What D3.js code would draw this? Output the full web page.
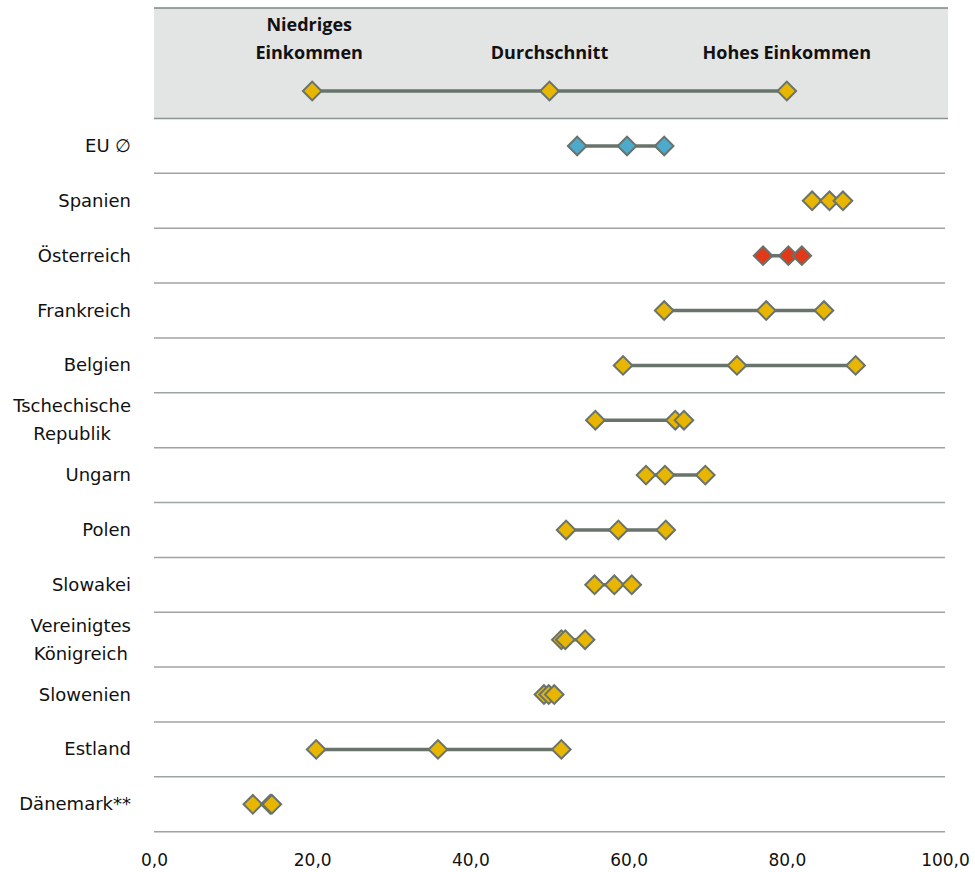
<!DOCTYPE html>
<html>
<head>
<meta charset="utf-8">
<script src="https://cdn.jsdelivr.net/npm/d3@7"></script>
<style>
  html, body { margin: 0; padding: 0; background: #fff; }
  svg { display: block; }
</style>
</head>
<body>
<svg id="chart" width="975" height="872"></svg>
<script>
// ---- Data ----
const categories = ["EU ∅", "Spanien", "Österreich", "Frankreich", "Belgien",
  "Tschechische\nRepublik", "Ungarn", "Polen", "Slowakei",
  "Vereinigtes\nKönigreich", "Slowenien", "Estland", "Dänemark**"];
const niedrigesEinkommen = [53.5, 83.2, 77.0, 64.5, 59.3, 55.8, 62.2, 52.1, 55.7, 51.5, 49.3, 20.5, 12.5];
const durchschnitt       = [59.8, 85.4, 80.2, 77.4, 73.7, 65.9, 64.6, 58.7, 58.2, 52.0, 49.9, 35.9, 14.7];
const hohesEinkommen     = [64.5, 87.1, 81.9, 84.7, 88.7, 67.0, 69.7, 64.7, 60.4, 54.5, 50.6, 51.5, 14.9];
const legendLabels = ["Niedriges\nEinkommen", "Durchschnitt", "Hohes Einkommen"];
const legendValues = [20, 50, 80];
const xTicks = [0, 20, 40, 60, 80, 100];

// ---- Styles ----
const GOLD = "#e8b500", BLUE = "#4eaacb", RED = "#e2391a";
const STROKE = "#68736c";
const colorFor = c => c === "EU ∅" ? BLUE : (c === "Österreich" ? RED : GOLD);

const svg = d3.select("#chart");
const x = d3.scaleLinear().domain([0, 100]).range([154, 945]);
const y = d3.scaleBand().domain(categories).range([118.5, 831.7]);
const diamond = d3.symbol().type(d3.symbolSquare).size(2 * 9.3 * 9.3);

// ---- Legend box ----
const lg = svg.append("g");
lg.append("rect").attr("x", x(0)).attr("y", 8).attr("width", x(100) - x(0) + 3).attr("height", 110)
  .attr("fill", "#e3e4e4");
lg.append("line").attr("x1", x(0)).attr("x2", x(100) + 3).attr("y1", 8).attr("y2", 8)
  .attr("stroke", "#7d8682").attr("stroke-width", 1.5);
const legendY = 91;
lg.append("line").attr("x1", x(d3.min(legendValues))).attr("x2", x(d3.max(legendValues)))
  .attr("y1", legendY).attr("y2", legendY).attr("stroke", STROKE).attr("stroke-width", 3.5);
legendValues.forEach((v, i) => {
  lg.append("path").attr("d", diamond)
    .attr("transform", `translate(${x(v)},${legendY}) rotate(45)`)
    .attr("fill", GOLD).attr("stroke", STROKE).attr("stroke-width", 2);
  const lines = legendLabels[i].split("\n");
  const t = lg.append("text").attr("text-anchor", "middle")
    .attr("font-family", "'Open Sans', sans-serif").attr("font-weight", 700)
    .attr("font-size", 18).attr("fill", "#111");
  lines.forEach((ln, j) => {
    t.append("tspan").attr("x", x(v) - (lines.length > 1 ? 3 : 0)).attr("y", 59 - (lines.length - 1 - j) * 28).text(ln);
  });
});

// ---- Row separators ----
svg.append("g").selectAll("line").data(categories).join("line")
  .attr("x1", x(0)).attr("x2", x(100))
  .attr("y1", d => y(d) + y.bandwidth()).attr("y2", d => y(d) + y.bandwidth())
  .attr("stroke", "#9fa3a1").attr("stroke-width", 1.5);
svg.append("line").attr("x1", x(0)).attr("x2", x(100) + 3).attr("y1", 118.5).attr("y2", 118.5)
  .attr("stroke", "#8d9591").attr("stroke-width", 1.5);

// ---- Category labels ----
const labG = svg.append("g").attr("font-family", "'DejaVu Sans', sans-serif")
  .attr("font-size", 18).attr("fill", "#111");
categories.forEach(c => {
  const cy = y(c) + y.bandwidth() / 2;
  const lines = c.split("\n");
  if (lines.length === 1) {
    labG.append("text").attr("x", 131).attr("y", cy + 6).attr("text-anchor", "end").text(c);
  } else {
    const ts = lines.map((ln, j) => labG.append("text").attr("y", cy + 6 + (j - 0.5) * 28).text(ln));
    const w = d3.max(ts, t => t.node().getComputedTextLength());
    ts.forEach(t => t.attr("x", 131 - w / 2).attr("text-anchor", "middle"));
  }
});

// ---- Rows: lines and diamonds ----
const rows = categories.map((c, i) => ({
  c, vals: [niedrigesEinkommen[i], durchschnitt[i], hohesEinkommen[i]]
}));
const rg = svg.append("g").selectAll("g").data(rows).join("g")
  .attr("transform", d => `translate(0,${y(d.c) + y.bandwidth() / 2})`);
rg.append("line")
  .attr("x1", d => x(d3.min(d.vals))).attr("x2", d => x(d3.max(d.vals)))
  .attr("stroke", STROKE).attr("stroke-width", 3.5);
rg.selectAll("path").data(d => d.vals.map(v => ({ v, c: d.c }))).join("path")
  .attr("d", diamond)
  .attr("transform", d => `translate(${x(d.v)},0) rotate(45)`)
  .attr("fill", d => colorFor(d.c)).attr("stroke", STROKE).attr("stroke-width", 2);

// ---- X axis ----
const fmt = v => d3.format(".1f")(v).replace(".", ",");
const ax = svg.append("g").attr("transform", "translate(0,831.7)")
  .call(d3.axisBottom(x).tickValues(xTicks).tickFormat(fmt).tickSize(0).tickPadding(22));
ax.select(".domain").remove();
ax.selectAll("text").attr("font-family", "'DejaVu Sans', sans-serif").attr("font-size", 17).attr("fill", "#111");
</script>
</body>
</html>
